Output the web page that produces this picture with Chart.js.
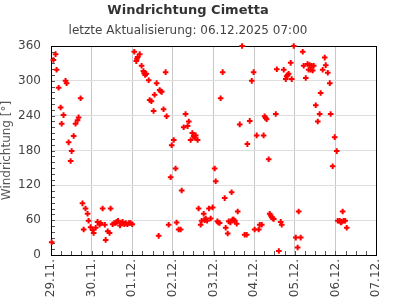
<!DOCTYPE html>
<html>
<head>
<meta charset="utf-8">
<script src="https://cdn.jsdelivr.net/npm/chart.js@4/dist/chart.umd.min.js"></script>
<style>
  html, body { margin: 0; padding: 0; background: #fff; }
  #wrap { width: 395px; height: 300px; }
</style>
</head>
<body>
<div id="wrap"><canvas id="c" width="395" height="300"></canvas></div>
<script>
// ---- data (hours since 29.11. 00:00, wind direction in degrees) ----
const titleText = 'Windrichtung Cimetta';
const subtitleText = 'letzte Aktualisierung: 06.12.2025 07:00';
const yAxisTitle = 'Windrichtung [°]';
const dayLabels = ['29.11.', '30.11.', '01.12.', '02.12.', '03.12.', '04.12.', '05.12.', '06.12.', '07.12.'];
const yTickValues = [0, 60, 120, 180, 240, 300, 360];

const hours = [
  0.4, 1.4, 2.7, 3.3, 4.5, 5.7, 6.3, 7.4, 8.6, 9.2, 10.4, 11.6, 12.2, 13.4, 14.5, 15.7, 16.3, 17.5, 18.6, 19.3, 20.4, 21.6, 22.2, 23.4,
  24.6, 25.2, 26.4, 27.5, 28.7, 29.3, 30.5, 31.8, 32.3, 33.5, 34.6, 35.2, 36.4, 37.4, 38.2, 38.8, 39.6, 40.8, 41.6, 42.3, 43.3, 44.1, 45.1, 46.1, 47.0,
  48.0, 49.2, 50.4, 50.8, 51.2, 52.4, 53.5, 54.6, 55.0, 55.6, 56.3, 57.7, 58.3, 59.3, 60.6, 61.2, 62.4, 63.6, 64.2, 64.8, 65.4, 66.5, 67.7, 68.3, 69.5, 70.7, 71.3,
  72.5, 73.6, 74.2, 75.4, 76.6, 77.2, 78.4, 79.5, 80.7, 81.4, 82.5, 83.5, 84.3, 84.9, 85.5, 86.6, 87.2, 88.4, 89.0, 90.2, 90.8, 91.4, 92.2, 93.3, 94.3, 95.5,
  96.7, 97.3, 98.3, 98.9, 99.6, 100.2, 101.4, 102.6, 103.2, 104.4, 105.0, 106.0, 106.7, 107.3, 107.9, 108.5, 109.7, 110.3, 111.5, 112.9, 114.4, 115.6, 116.0, 117.4, 118.6, 119.7,
  120.3, 121.5, 122.7, 123.3, 124.5, 125.6, 126.2, 126.8, 127.4, 128.6, 129.2, 129.8, 130.4, 131.0, 131.6, 132.8, 133.4, 134.6, 135.7, 136.3, 137.5, 138.7, 139.2, 139.8, 140.4, 141.6, 142.2, 143.4,
  144.6, 145.7, 146.3, 147.5, 148.7, 149.3, 150.5, 151.6, 152.2, 152.8, 153.4, 154.0, 154.6, 155.2, 156.4, 157.6, 158.7, 159.3, 160.5, 161.7, 162.3, 163.5, 164.7, 165.2, 166.4, 167.6, 168.8,
  169.4, 170.6, 171.2, 171.7, 172.3, 172.9, 173.8, 174.7
];
const directions = [
  22, 336, 346, 319, 288, 254, 226, 241, 300, 296, 194, 162, 179, 205, 226, 232, 237, 270, 89, 44, 80, 71, 59, 48,
  43, 38, 47, 57, 52, 55, 80, 52, 26, 41, 38, 80, 53, 55, 55, 57, 59, 51, 55, 57, 53, 55, 53, 55, 55,
  53, 350, 334, 338, 341, 346, 326, 317, 313, 310, 312, 301, 267, 265, 248, 276, 296, 33, 284, 282, 281, 251, 315, 239, 52, 134, 189,
  198, 149, 56, 44, 44, 111, 220, 243, 222, 230, 198, 210, 205, 202, 206, 198, 80, 52, 59, 71, 60, 63, 59, 80, 63, 82,
  149, 127, 58, 56, 55, 270, 315, 98, 47, 37, 58, 56, 108, 61, 61, 59, 54, 75, 225, 360, 35, 35, 191, 231, 300, 315,
  44, 206, 44, 52, 52, 206, 239, 236, 234, 165, 71, 68, 65, 63, 62, 243, 320, 7, 57, 52, 319, 303, 308, 310, 312, 331, 303, 360,
  30, 13, 75, 30, 350, 326, 305, 329, 319, 327, 319, 326, 318, 326, 258, 230, 243, 279, 319, 340, 327, 314, 296, 243, 153, 203, 179,
  59, 59, 56, 57, 75, 59, 59, 47
];

const X_MAX = (dayLabels.length - 1) * 24;
const MINOR_X = 6;   // hours
const MINOR_Y = 10;  // degrees

const points = hours.map((h, i) => ({ x: h, y: directions[i] }));

const frameAndTicks = {
  id: 'frameAndTicks',
  beforeDatasetsDraw(chart) {
    const { ctx, chartArea: a, scales } = chart;
    const x = scales.x, y = scales.y;
    ctx.save();
    ctx.strokeStyle = '#555';
    ctx.lineWidth = 1;
    ctx.beginPath();
    for (let v = x.min; v <= x.max; v += MINOR_X) {
      const px = Math.round(x.getPixelForValue(v)) + 0.5;
      ctx.moveTo(px, a.bottom);
      ctx.lineTo(px, a.bottom - 4);
    }
    for (let v = y.min; v <= y.max; v += MINOR_Y) {
      const py = Math.round(y.getPixelForValue(v)) + 0.5;
      ctx.moveTo(a.left, py);
      ctx.lineTo(a.left + 4, py);
    }
    ctx.stroke();
    ctx.strokeStyle = '#000';
    ctx.strokeRect(Math.round(a.left) + 0.5, Math.round(a.top) + 0.5, Math.round(a.width), Math.round(a.height));
    ctx.restore();
  }
};

new Chart(document.getElementById('c'), {
  type: 'scatter',
  data: {
    datasets: [{
      data: points,
      pointStyle: 'cross',
      pointRadius: 2.8,
      pointBorderWidth: 2,
      borderColor: '#ff0000',
      backgroundColor: '#ff0000',
      clip: 6
    }]
  },
  options: {
    responsive: false,
    animation: false,
    devicePixelRatio: 1,
    layout: { padding: { left: 0, right: 19, top: 0, bottom: 0 } },
    plugins: {
      legend: { display: false },
      tooltip: { enabled: false },
      title: {
        display: true,
        text: titleText,
        color: '#333',
        font: { family: 'DejaVu Sans', size: 13, weight: 'bold' },
        padding: { top: 3, bottom: 5 }
      },
      subtitle: {
        display: true,
        text: subtitleText,
        color: '#444',
        font: { family: 'DejaVu Sans', size: 12 },
        padding: { top: 0, bottom: 8 }
      }
    },
    scales: {
      x: {
        type: 'linear',
        min: 0,
        max: X_MAX,
        afterFit(scale) { scale.height = 45; },
        afterBuildTicks(scale) {
          scale.ticks = dayLabels.map((_, i) => ({ value: i * 24 }));
        },
        ticks: {
          autoSkip: false,
          minRotation: 90,
          maxRotation: 90,
          padding: 4,
          color: '#444',
          font: { family: 'DejaVu Sans', size: 12 },
          callback: (v) => dayLabels[Math.round(v / 24)]
        },
        grid: { color: '#c8c8c8', drawTicks: false },
        border: { display: false }
      },
      y: {
        min: 0,
        max: 360,
        afterFit(scale) { scale.width = 51; },
        afterBuildTicks(scale) {
          scale.ticks = yTickValues.map(v => ({ value: v }));
        },
        ticks: {
          padding: 10,
          color: '#444',
          font: { family: 'DejaVu Sans', size: 12 }
        },
        title: {
          display: true,
          text: yAxisTitle,
          color: '#555',
          font: { family: 'DejaVu Sans', size: 12 },
          padding: { top: 0, bottom: 0 }
        },
        grid: { color: '#dddddd', drawTicks: false },
        border: { display: false }
      }
    }
  },
  plugins: [frameAndTicks]
});
</script>
</body>
</html>
